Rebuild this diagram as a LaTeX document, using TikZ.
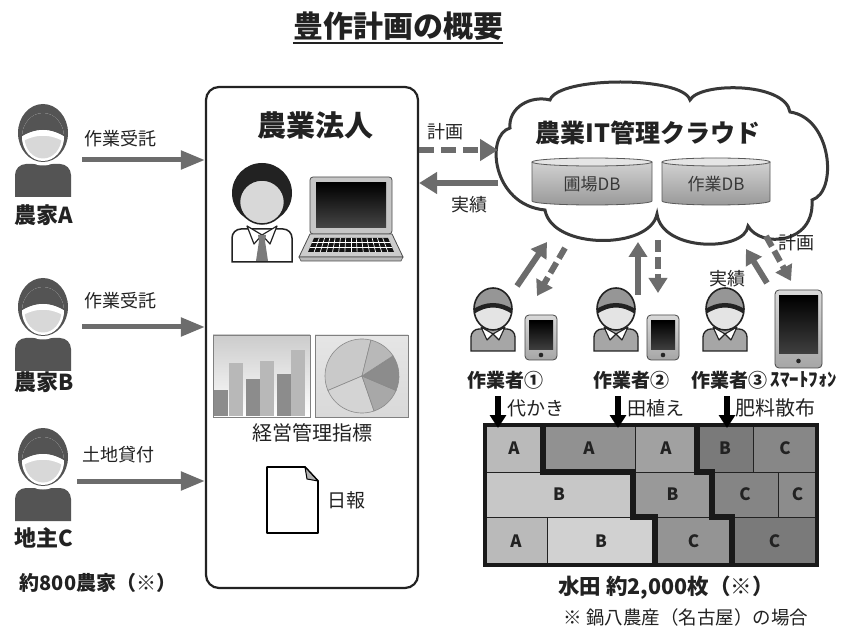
\documentclass[tikz,border=0pt]{standalone}
\usepackage{fontspec}
\setmainfont{Noto Sans CJK JP}
\usetikzlibrary{arrows.meta}

\definecolor{ink}{HTML}{222222}
\definecolor{flowgray}{HTML}{6C6C6C}
\definecolor{farmergray}{HTML}{545454}
\definecolor{facegray}{HTML}{D8D8D8}
\definecolor{capgray}{HTML}{969696}
\definecolor{shirtgray}{HTML}{A6A6A6}
\definecolor{tiegray}{HTML}{7A7A7A}
\definecolor{edgegray}{HTML}{8A8A8A}

\newcommand\setfs[1]{\fontsize{#1}{#1}\selectfont}

% smartphone: left, top, right, bottom, bottom bezel
\newcommand\handset[5]{%
  \shade[top color=gray!30, bottom color=gray!70, draw=gray!55!black, line width=.8pt, rounded corners=4pt]
    (#1,#2) rectangle (#3,#4);
  \shade[top color=black, bottom color=gray!50!black] (#1+4,#2+6) rectangle (#3-4,#4-#5);
  \fill[gray!30!black] ({(#1+#3)/2},{#4-#5/2}) circle [radius=2.3];
}

\tikzset{
  lbl/.style={text=ink, inner sep=0pt, font=\setfs{18}},
  blbl/.style={text=ink, inner sep=0pt, font=\setfs{22}\bfseries},
  flow/.style={draw=flowgray, line width=5pt, -{Triangle[length=24pt,width=18pt]}},
  bigflow/.style={draw=flowgray, line width=6.5pt, -{Triangle[length=18pt,width=21pt]}},
  bigdash/.style={bigflow, dash pattern=on 15pt off 7pt},
  mobflow/.style={draw=flowgray, line width=6pt, -{Triangle[length=15pt,width=18pt]}},
  mobdash/.style={mobflow, dash pattern=on 12pt off 5pt},
  taskarrow/.style={draw=black, line width=6pt, -{Triangle[length=13pt,width=16pt]}},
  corpbox/.style={draw=ink, line width=2.2pt, rounded corners=13pt, minimum width=212pt, minimum height=501pt},
  fieldlbl/.style={text=ink, inner sep=0pt, font=\setfs{17}\bfseries},
  dblbl/.style={text=ink!90, inner sep=0pt, font=\setfs{17}},
  farmer/.pic={
    \fill[farmergray] (-28,64) [rounded corners=11pt] -- (-28,31) -- (28,31) [sharp corners] -- (28,64) -- cycle;
    \fill[white] (0,0) ellipse [x radius=28.5, y radius=32.5];
    \fill[farmergray] (0,0) ellipse [x radius=25, y radius=29];
    \fill[white] (0,4) ellipse [x radius=21, y radius=24];
    \fill[facegray] (0,4) ellipse [x radius=18.5, y radius=21.5];
    \begin{scope}
      \clip (0,4) ellipse [x radius=21, y radius=24];
      \fill[farmergray] (-25,-30) -- (25,-30) -- (25,6) .. controls (8,-6) and (-8,-6) .. (-25,6) -- cycle;
      \fill[white] (-25,6) .. controls (-8,-6) and (8,-6) .. (25,6) -- (25,11) .. controls (8,0) and (-8,0) .. (-25,11) -- cycle;
    \end{scope}
  },
  worker/.pic={
    \filldraw[fill=shirtgray, draw=ink, line width=1.3pt] (-22,42) [rounded corners=8pt] -- (-22,20) -- (22,20) [sharp corners] -- (22,42) -- cycle;
    \filldraw[fill=white, draw=ink, line width=1.1pt, line join=round] (-12,18) -- (0,25) -- (-6,31) -- cycle;
    \filldraw[fill=white, draw=ink, line width=1.1pt, line join=round] (12,18) -- (0,25) -- (6,31) -- cycle;
    \fill[facegray!70!white] (0,0) ellipse [x radius=19, y radius=21];
    \begin{scope}
      \clip (0,0) ellipse [x radius=19, y radius=21];
      \fill[capgray] (-20,-22) -- (20,-22) -- (20,3) .. controls (7,-6) and (-7,-6) .. (-20,3) -- cycle;
      \draw[ink, line width=4.5pt] (-20,3) .. controls (-7,-6) and (7,-6) .. (20,3);
    \end{scope}
    \draw[ink, line width=1.6pt] (0,0) ellipse [x radius=19, y radius=21];
  },
  manager/.pic={
    \filldraw[fill=white, draw=ink, line width=1.5pt] (-30,64) [rounded corners=9pt] -- (-30,31) -- (30,31) [sharp corners] -- (30,64) -- cycle;
    \filldraw[fill=white, draw=ink, line width=1.2pt, line join=round] (-15,28) -- (0,37) -- (-8,46) -- cycle;
    \filldraw[fill=white, draw=ink, line width=1.2pt, line join=round] (15,28) -- (0,37) -- (8,46) -- cycle;
    \fill[tiegray] (-4,37) -- (4,37) -- (3,43) -- (-3,43) -- cycle;
    \fill[tiegray] (-3,43) -- (3,43) -- (6,63) -- (-6,63) -- cycle;
    \fill[ink] (0,-5) ellipse [x radius=30, y radius=30];
    \filldraw[fill=facegray, draw=ink, line width=1.5pt] (0,4) ellipse [x radius=22.5, y radius=22];
  }
}

\begin{document}
\begin{tikzpicture}[x=1pt,y=-1pt]
\useasboundingbox (0,0) rectangle (841,628);
\fill[white] (0,0) rectangle (841,628);

% ---------- title ----------
\node[text=ink, inner sep=0pt, font=\setfs{30}\bfseries] (title) at (398,26) {豊作計画の概要};
\draw[ink, line width=2.8pt] (title.west |- 0,43) -- (title.east |- 0,43);

% ---------- farmers and landowner ----------
\pic at (43,133) {farmer};
\pic at (43,307) {farmer};
\pic at (43,457) {farmer};
\node[blbl] (farmA) at (44,215) {農家A};
\node[blbl] (farmB) at (44,382) {農家B};
\node[blbl] (ownerC) at (44,538) {地主C};
\node[blbl, font=\setfs{20}\bfseries] (count) at (98,583) {約800農家（※）};

% ---------- corporation box ----------
\node[corpbox] (corp) at (312,337.5) {};
\node[text=ink, inner sep=0pt, font=\setfs{29}\bfseries] (corpname) at (315,125) {農業法人};

\coordinate (fa) at (82,160);
\coordinate (fb) at (82,327);
\coordinate (fc) at (77,481);
\draw[flow] (fa) -- (corp.west |- fa);
\draw[flow] (fb) -- (corp.west |- fb);
\draw[flow] (fc) -- (corp.west |- fc);
\node[lbl] (la) at (120,139) {作業受託};
\node[lbl] (lb) at (120,301) {作業受託};
\node[lbl] (lc) at (118,455) {土地貸付};

% manager
\pic at (262,198) {manager};

% laptop
\filldraw[fill=gray!45, draw=gray!60!black, line width=.8pt, rounded corners=3pt] (310,177) rectangle (392,234);
\shade[top color=black, bottom color=gray!55!black] (316,183) rectangle (386,228);
\filldraw[fill=gray!40, draw=gray!60!black, line width=.8pt] (310,234) -- (392,234) -- (403,257) -- (299,257) -- cycle;
\filldraw[fill=gray!55, draw=gray!60!black, line width=.6pt] (299,257) -- (403,257) -- (401,261) -- (301,261) -- cycle;
\fill[gray!15!black] (314,238) -- (388,238) -- (394,252) -- (308,252) -- cycle;
\foreach \t in {0.333,0.667}
  \draw[white, line width=.8pt] (314-6*\t,238+14*\t) -- (388+6*\t,238+14*\t);
\foreach \i in {1,...,13}
  \draw[white, line width=.7pt] (314+74*\i/14,238) -- (308+86*\i/14,252);

% charts
\shade[top color=gray!40, bottom color=white, draw=gray, line width=.8pt] (213,335) rectangle (310,417);
\fill[black!45] (214,390) rectangle (228,416);
\fill[black!28] (229,363) rectangle (243,416);
\fill[black!45] (246,379) rectangle (260,416);
\fill[black!28] (260,361) rectangle (274,416);
\fill[black!45] (277,374) rectangle (291,416);
\fill[black!28] (291,350) rectangle (305,416);
\shade[top color=gray!20, bottom color=gray!30, draw=gray, line width=.8pt] (315,335) rectangle (408,417);
\coordinate (pc) at (362,376);
\filldraw[fill=black!21, draw=edgegray, line width=.6pt] (pc) -- ++(-76:37) arc[start angle=-76, end angle=-203, radius=37] -- cycle;
\filldraw[fill=black!17, draw=edgegray, line width=.6pt] (pc) -- ++(-203:37) arc[start angle=-203, end angle=-289, radius=37] -- cycle;
\filldraw[fill=black!34, draw=edgegray, line width=.6pt] (pc) -- ++(-289:37) arc[start angle=-289, end angle=-337, radius=37] -- cycle;
\filldraw[fill=black!45, draw=edgegray, line width=.6pt] (pc) -- ++(-337:37) arc[start angle=-337, end angle=-393, radius=37] -- cycle;
\filldraw[fill=black!28, draw=edgegray, line width=.6pt] (pc) -- ++(-33:37) arc[start angle=-33, end angle=-76, radius=37] -- cycle;
\node[lbl, font=\setfs{20}] (kpi) at (312,433) {経営管理指標};

% daily report
\filldraw[fill=white, draw=black, line width=1.8pt, line join=round] (267,467) -- (305,467) -- (318,481) -- (318,533) -- (267,533) -- cycle;
\filldraw[fill=gray!60, draw=black, line width=1pt, line join=round] (305,467) -- (307,479) -- (318,481) -- cycle;
\node[lbl, font=\setfs{19}] (daily) at (346,500) {日報};

% ---------- cloud ----------
\filldraw[fill=white, draw=ink!90, line width=3pt, line join=miter]
  (510,128) .. controls (508,108) and (530,95) .. (550,100)
  .. controls (558,76) and (683,76) .. (690,100)
  .. controls (700,82) and (785,82) .. (790,112)
  .. controls (832,118) and (838,192) .. (812,200)
  .. controls (815,245) and (760,248) .. (748,226)
  .. controls (745,252) and (662,252) .. (657,214)
  .. controls (650,250) and (552,250) .. (545,210)
  .. controls (492,205) and (485,135) .. (510,128) -- cycle;
\node[text=ink, inner sep=0pt, font=\setfs{25}\bfseries] (cloudname) at (648,133) {農業IT管理クラウド};

% databases
\shade[top color=black!18, bottom color=black!40] (532,162) -- (532,201) arc[start angle=180, end angle=0, x radius=60, y radius=4] -- (652,162) arc[start angle=0, end angle=180, x radius=60, y radius=4] -- cycle;
\draw[gray!70!black, line width=.8pt] (532,162) -- (532,201) arc[start angle=180, end angle=0, x radius=60, y radius=4] -- (652,162);
\filldraw[fill=black!10, draw=gray!70!black, line width=.8pt] (592,162) ellipse [x radius=60, y radius=4];
\node[dblbl] (db1) at (592,184) {圃場DB};
\shade[top color=black!18, bottom color=black!40] (662,162) -- (662,201) arc[start angle=180, end angle=0, x radius=54, y radius=4] -- (770,162) arc[start angle=0, end angle=180, x radius=54, y radius=4] -- cycle;
\draw[gray!70!black, line width=.8pt] (662,162) -- (662,201) arc[start angle=180, end angle=0, x radius=54, y radius=4] -- (770,162);
\filldraw[fill=black!10, draw=gray!70!black, line width=.8pt] (716,162) ellipse [x radius=54, y radius=4];
\node[dblbl] (db2) at (716,184) {作業DB};

% corporation <-> cloud
\coordinate (cin) at (498,150);
\coordinate (cout) at (498,183);
\draw[bigdash] (corp.east |- cin) -- (cin);
\draw[bigflow] (cout) -- (corp.east |- cout);
\node[lbl] (plan1) at (445,132) {計画};
\node[lbl] (done1) at (469,205) {実績};

% ---------- field workers ----------
\pic at (493,309) {worker};
\pic at (616,309) {worker};
\pic at (725,309) {worker};
\handset{525}{315}{557}{360}{10}
\handset{647}{315}{679}{360}{10}
\handset{775}{290}{822}{368}{14}
\node[blbl, font=\setfs{19}\bfseries] (w1) at (505,380) {作業者①};
\node[blbl, font=\setfs{19}\bfseries] (w2) at (631,380) {作業者②};
\node[blbl, font=\setfs{19}\bfseries] (w3) at (729,380) {作業者③};
\node[blbl, font=\setfs{19}\bfseries] (phone) at (804,380) {ｽﾏｰﾄﾌｫﾝ};

% workers <-> cloud
\coordinate (u1a) at (517,286); \coordinate (u1b) at (547,242);
\coordinate (d1a) at (565,248); \coordinate (d1b) at (537,296);
\coordinate (u2a) at (638,295); \coordinate (u2b) at (638,242);
\coordinate (d2a) at (658,240); \coordinate (d2b) at (658,293);
\coordinate (u3a) at (767,283); \coordinate (u3b) at (746,249);
\coordinate (d3a) at (766,236); \coordinate (d3b) at (791,281);
\draw[mobflow] (u1a) -- (u1b);
\draw[mobdash] (d1a) -- (d1b);
\draw[mobflow] (u2a) -- (u2b);
\draw[mobdash] (d2a) -- (d2b);
\draw[mobflow] (u3a) -- (u3b);
\draw[mobdash] (d3a) -- (d3b);
\node[lbl] (plan2) at (796,243) {計画};
\node[lbl] (done2) at (727,279) {実績};

% ---------- paddy fields ----------
\foreach \xa/\xb/\ya/\yb/\t/\c/\n in {
  485/543/425/472/A/27/f1, 543/635/425/472/A/43/f2, 635/697/425/472/A/37/f3,
  697/753/425/472/B/52/f4, 753/817/425/472/C/47/f5,
  485/633/472/517/B/22/f6, 633/712/472/517/B/40/f7, 712/778/472/517/C/48/f8,
  778/817/472/517/C/45/f9,
  485/547/517/565/A/27/f10, 547/655/517/565/B/18/f11, 655/732/517/565/C/42/f12,
  732/817/517/565/C/52/f13}
{
  \filldraw[fill=black!\c, draw=ink, line width=.8pt] (\xa,\ya) rectangle (\xb,\yb);
  \node[fieldlbl] (\n) at ({(\xa+\xb)/2},{(\ya+\yb)/2}) {\t};
}
\draw[black!90, line width=5.5pt, line join=miter] (543,425) -- (543,472) -- (633,472) -- (633,517) -- (655,517) -- (655,565);
\draw[black!90, line width=5.5pt, line join=miter] (697,425) -- (697,472) -- (712,472) -- (712,517) -- (732,517) -- (732,565);
\draw[black!90, line width=4.5pt] (485,425) rectangle (817,565);

% tasks
\coordinate (t1) at (498,396); \coordinate (t2) at (618,396); \coordinate (t3) at (727,396);
\draw[taskarrow] (t1) -- (t1 |- 0,428);
\draw[taskarrow] (t2) -- (t2 |- 0,428);
\draw[taskarrow] (t3) -- (t3 |- 0,428);
\node[lbl, font=\setfs{19}, anchor=west] (k1) at (507,408) {代かき};
\node[lbl, font=\setfs{19}, anchor=west] (k2) at (627,408) {田植え};
\node[lbl, font=\setfs{20}, anchor=west] (k3) at (735,408) {肥料散布};

\node[blbl, font=\setfs{21.5}\bfseries] (paddy) at (666,588) {水田 約2,000枚（※）};
\node[lbl, font=\setfs{18.5}] (note) at (686,617) {※ 鍋八農産（名古屋）の場合};
\end{tikzpicture}
\end{document}
